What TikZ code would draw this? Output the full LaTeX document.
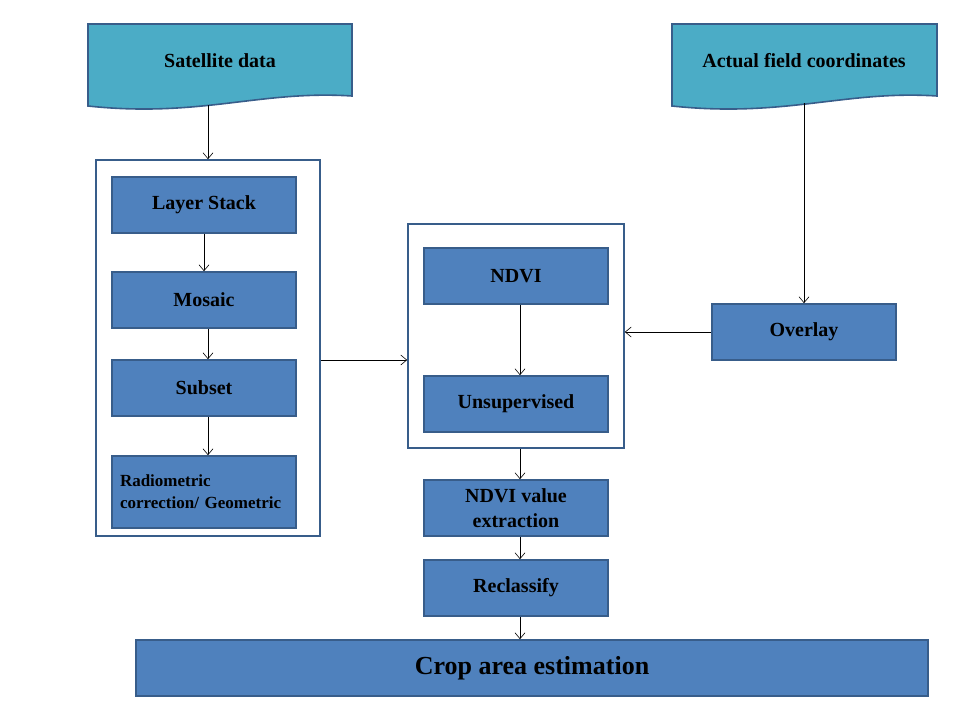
\documentclass[tikz,border=0pt]{standalone}
\usepackage{fontspec}
\setmainfont{Liberation Serif}
\usetikzlibrary{positioning,calc,arrows.meta}
\definecolor{boxblue}{RGB}{79,129,189}
\definecolor{docaqua}{RGB}{75,172,198}
\definecolor{edgeblue}{RGB}{56,93,138}

\begin{document}
\begin{tikzpicture}[x=1pt,y=-1pt,
    procnode/.style={draw=edgeblue,fill=boxblue,line width=1.6pt,minimum width=184pt,
      minimum height=56pt,inner sep=2pt,align=center,font=\fontsize{20}{25}\selectfont\bfseries},
    docnode/.style={minimum width=264pt,minimum height=84pt,inner sep=0pt,
      font=\fontsize{20}{24}\selectfont\bfseries},
    groupbox/.style={draw=edgeblue,line width=1.6pt,inner sep=0pt},
    flow/.style={-{Straight Barb[length=6pt,width=10pt,line width=0.6pt]},black,line width=0.6pt}
  ]
  \useasboundingbox (0,0) rectangle (960,720);

  % the two document inputs
  \fill[docaqua,draw=edgeblue,line width=1.6pt] (88,24) -- (352,24) -- (352,96)
    .. controls (260,90) and (200,118) .. (88,106) -- cycle;
  \node[docnode] (sat) at (220,61) {Satellite data};
  \fill[docaqua,draw=edgeblue,line width=1.6pt] (672,24) -- (937,24) -- (937,96)
    .. controls (845,90) and (785,118) .. (672,106) -- cycle;
  \node[docnode] (field) at (804,61) {Actual field coordinates};

  % the preprocessing group
  \node[groupbox,minimum width=224pt,minimum height=376pt] (lbox) at (208,348) {};
  \node[procnode] (stack) at (204,205) {Layer Stack};
  \node[procnode] (mosaic) at (204,300) {Mosaic};
  \node[procnode] (subset) at (204,388) {Subset};
  \node[procnode,minimum height=72pt,align=left,text width=168pt,
    font=\fontsize{17}{22}\selectfont\bfseries] (radio) at (204,492)
    {Radiometric\\correction/ Geometric};

  % the classification group
  \node[groupbox,minimum width=216pt,minimum height=224pt] (mbox) at (516,336) {};
  \node[procnode] (ndvi) at (516,276) {NDVI};
  \node[procnode] (unsup) at (516,404) {Unsupervised};
  \node[procnode] (overlay) at (804,332) {Overlay};

  % the later steps
  \node[procnode] (extract) at (516,508) {NDVI value\\extraction};
  \node[procnode] (reclass) at (516,588) {Reclassify};
  \node[procnode,minimum width=792pt,font=\fontsize{26}{30}\selectfont\bfseries] (crop) at (532,668) {Crop area estimation};

  % the edges
  \draw[flow] ($(sat.south -| lbox.north)+(0,2)$) -- (lbox.north);
  \draw[flow] (stack) -- (mosaic);
  \draw[flow] ($(mosaic.south)+(4,0)$) -- ($(subset.north)+(4,0)$);
  \draw[flow] ($(subset.south)+(4,0)$) -- ($(radio.north)+(4,0)$);
  \draw[flow] (lbox.east |- 0,360) -- (mbox.west |- 0,360);
  \draw[flow] ($(ndvi.south)+(4,0)$) -- ($(unsup.north)+(4,0)$);
  \draw[flow] (field.south) -- (overlay.north);
  \draw[flow] (overlay.west) -- (mbox.east |- overlay.west);
  \draw[flow] ($(mbox.south)+(4,0)$) -- ($(extract.north)+(4,0)$);
  \draw[flow] ($(extract.south)+(4,0)$) -- ($(reclass.north)+(4,0)$);
  \draw[flow] ($(reclass.south)+(4,0)$) -- ($(crop.north -| reclass.south)+(4,0)$);
\end{tikzpicture}
\end{document}
